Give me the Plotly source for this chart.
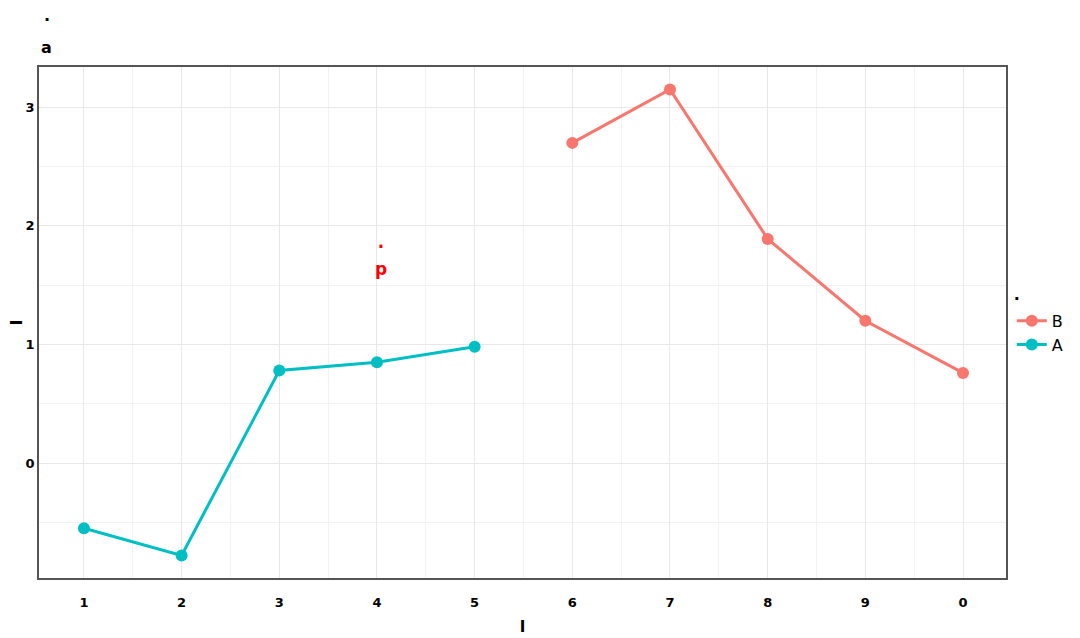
import plotly.graph_objects as go

x_a = [1, 2, 3, 4, 5]
y_a = [-0.55, -0.78, 0.78, 0.85, 0.98]
x_b = [6, 7, 8, 9, 10]
y_b = [2.70, 3.15, 1.89, 1.20, 0.76]
x_ticks = [1, 2, 3, 4, 5, 6, 7, 8, 9, 10]
x_labels = ["1", "2", "3", "4", "5", "6", "7", "8", "9", "0"]
y_ticks = [0, 1, 2, 3]

FONT = "DejaVu Sans"
teal = "#00BFC4"
salmon = "#F8766D"

fig = go.Figure()
fig.add_trace(go.Scatter(
    x=x_b, y=y_b, name="B", mode="lines+markers",
    line=dict(color=salmon, width=3), marker=dict(size=12, color=salmon),
))
fig.add_trace(go.Scatter(
    x=x_a, y=y_a, name="A", mode="lines+markers",
    line=dict(color=teal, width=3), marker=dict(size=12, color=teal),
))

# red label in the middle
fig.add_annotation(x=4.04, y=1.73, text="<b>·<br>p</b>", showarrow=False,
                   font=dict(family=FONT, size=17, color="red"))

# title lines (top-left)
fig.add_annotation(x=0.003, y=1.092, xref="paper", yref="paper", text="<b>·</b>",
                   showarrow=False, xanchor="left", yanchor="middle",
                   font=dict(family=FONT, size=16, color="black"))
fig.add_annotation(x=0.0, y=1.039, xref="paper", yref="paper", text="<b>a</b>",
                   showarrow=False, xanchor="left", yanchor="middle",
                   font=dict(family=FONT, size=16, color="black"))

axis_common = dict(
    showline=True, linecolor="#555555", linewidth=1.5, mirror=True,
    showgrid=True, gridcolor="#E8E8E8", gridwidth=1, automargin=False,
    zeroline=False, ticks="", tickfont=dict(family=FONT, size=13, color="black"),
)

fig.update_xaxes(
    range=[0.54, 10.44], tickvals=x_ticks, ticktext=[f"<b>{t}</b>" for t in x_labels],
    minor=dict(showgrid=True, gridcolor="#F2F2F2", dtick=0.5, tick0=0.5),
    title=dict(text="<b>I</b>", font=dict(family=FONT, size=15, color="black"), standoff=12),
    ticklabelstandoff=12,
    **axis_common,
)
fig.update_yaxes(
    range=[-0.97, 3.34], tickvals=y_ticks, ticktext=[f"<b>{t}</b>" for t in y_ticks],
    minor=dict(showgrid=True, gridcolor="#F2F2F2", dtick=0.5, tick0=0.5),
    title=dict(text="<b>I</b>", font=dict(family=FONT, size=15, color="black"), standoff=2),
    ticklabelstandoff=0,
    **axis_common,
)

fig.update_layout(
    width=1072, height=630,
    paper_bgcolor="white", plot_bgcolor="white",
    margin=dict(l=31, r=74, t=59, b=60, autoexpand=False),
    legend=dict(
        title=dict(text="<b>·</b>", font=dict(family=FONT, size=16, color="black")),
        x=1.006, y=0.5, xanchor="left", yanchor="middle",
        font=dict(family=FONT, size=16, color="black"),
        itemwidth=30,
    ),
    font=dict(family=FONT),
)

fig.write_html("out.html")
